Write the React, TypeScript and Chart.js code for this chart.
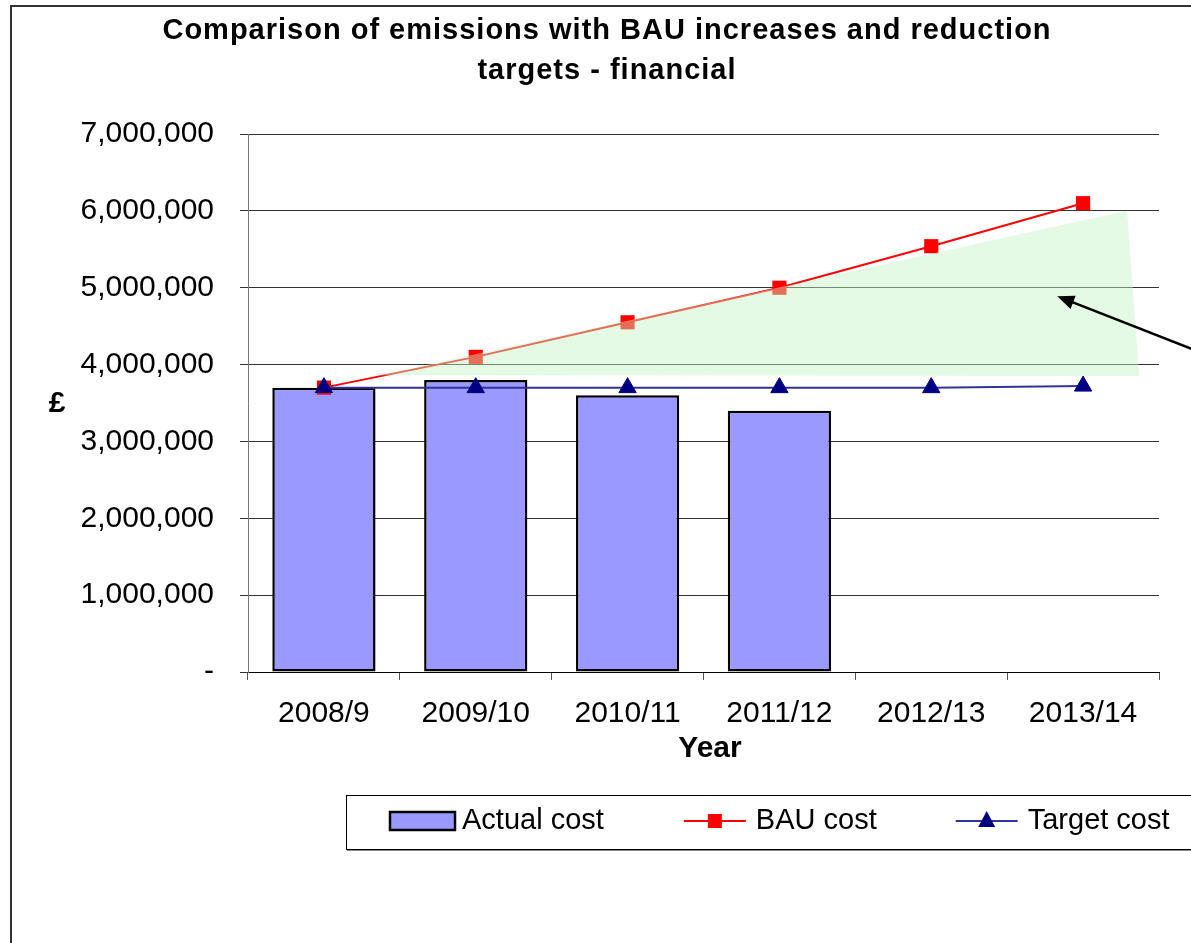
import React, { useEffect, useRef } from "react";
import { Chart, registerables } from "chart.js";

Chart.register(...registerables);

const categories = ["2008/9", "2009/10", "2010/11", "2011/12", "2012/13", "2013/14"];
const actualCost = [3700000, 3800000, 3600000, 3400000, null, null];
const bauCost = [3700000, 4100000, 4550000, 5000000, 5540000, 6100000];
const targetCost = [3700000, 3700000, 3700000, 3700000, 3700000, 3720000];
const yTicks = [0, 1000000, 2000000, 3000000, 4000000, 5000000, 6000000, 7000000];

// annotation shape (category index, value)
const shadeIdx = [0.37, 5.29, 5.37];
const shadeVal = [3860000, 6000000, 3850000];
const arrowIdx = [5.9, 4.83];
const arrowVal = [4060000, 4890000];

const titleLines = ["Comparison of emissions with BAU increases and reduction", "targets - financial"];
const FONT = "'Liberation Sans', Arial, sans-serif";

export default function App() {
  const ref = useRef<HTMLCanvasElement | null>(null);

  useEffect(() => {
    document.body.style.margin = "0";
    const canvas = ref.current!;

    const decor = {
      id: "decor",
      afterDatasetsDraw(chart: any) {
        const ctx = chart.ctx;
        const x = chart.scales.x;
        const y = chart.scales.y;
        // green shaded area
        ctx.save();
        ctx.fillStyle = "rgba(195,245,195,0.45)";
        ctx.beginPath();
        shadeIdx.forEach((v, i) => {
          const px = x.getPixelForValue(v);
          const py = y.getPixelForValue(shadeVal[i]);
          if (i === 0) ctx.moveTo(px, py);
          else ctx.lineTo(px, py);
        });
        ctx.closePath();
        ctx.fill();
        // arrow
        const x0 = x.getPixelForValue(arrowIdx[0]);
        const y0 = y.getPixelForValue(arrowVal[0]);
        const x1 = x.getPixelForValue(arrowIdx[1]);
        const y1 = y.getPixelForValue(arrowVal[1]);
        const ang = Math.atan2(y1 - y0, x1 - x0);
        ctx.strokeStyle = "#000";
        ctx.fillStyle = "#000";
        ctx.lineWidth = 2.5;
        ctx.beginPath();
        ctx.moveTo(x0, y0);
        ctx.lineTo(x1 - Math.cos(ang) * 10, y1 - Math.sin(ang) * 10);
        ctx.stroke();
        const hl = 17, hw = 7;
        ctx.beginPath();
        ctx.moveTo(x1, y1);
        ctx.lineTo(x1 - Math.cos(ang) * hl + Math.sin(ang) * hw, y1 - Math.sin(ang) * hl - Math.cos(ang) * hw);
        ctx.lineTo(x1 - Math.cos(ang) * hl - Math.sin(ang) * hw, y1 - Math.sin(ang) * hl + Math.cos(ang) * hw);
        ctx.closePath();
        ctx.fill();
        ctx.restore();
      },
      afterDraw(chart: any) {
        const ctx = chart.ctx;
        const ca = chart.chartArea;
        ctx.save();
        // outer frame
        ctx.strokeStyle = "#333";
        ctx.lineWidth = 2;
        ctx.strokeRect(11, 6, 1300, 1100);
        // main title
        ctx.fillStyle = "#000";
        ctx.textAlign = "center";
        ctx.textBaseline = "middle";
        ctx.font = `bold 29px ${FONT}`;
        try { (ctx as any).letterSpacing = "1px"; } catch (e) {}
        ctx.fillText(titleLines[0], 607, 31);
        ctx.fillText(titleLines[1], 607, 71);
        try { (ctx as any).letterSpacing = "0px"; } catch (e) {}
        // axis titles
        ctx.font = `bold 30px ${FONT}`;
        ctx.fillText("£", 57, (ca.top + ca.bottom) / 2 + 1);
        ctx.fillText("Year", 710, 749);
        // legend
        const ds = chart.data.datasets;
        ctx.strokeStyle = "#000";
        ctx.lineWidth = 1;
        ctx.strokeRect(346.5, 795.5, 1000, 54);
        ctx.strokeStyle = "#888";
        ctx.beginPath();
        ctx.moveTo(347, 850.5);
        ctx.lineTo(1191, 850.5);
        ctx.stroke();
        ctx.font = `29px ${FONT}`;
        ctx.textAlign = "left";
        const cy = 821;
        let lx = 390;
        // bar item
        const bar = ds[2];
        ctx.fillStyle = bar.backgroundColor;
        ctx.fillRect(lx, cy - 9, 65, 18);
        ctx.strokeStyle = "#000";
        ctx.lineWidth = 2.5;
        ctx.strokeRect(lx, cy - 9, 65, 18);
        ctx.fillStyle = "#000";
        ctx.fillText(bar.label, lx + 72, cy);
        lx += 72 + ctx.measureText(bar.label).width + 80;
        // line items
        [ds[1], ds[0]].forEach((d: any) => {
          ctx.strokeStyle = d.borderColor;
          ctx.lineWidth = 2;
          ctx.beginPath();
          ctx.moveTo(lx, cy);
          ctx.lineTo(lx + 62, cy);
          ctx.stroke();
          ctx.fillStyle = d.pointBackgroundColor;
          ctx.beginPath();
          const mx = lx + 31;
          if (d.pointStyle === "rect") {
            ctx.rect(mx - 7, cy - 7, 14, 14);
          } else {
            ctx.moveTo(mx, cy - 10);
            ctx.lineTo(mx + 8.5, cy + 6);
            ctx.lineTo(mx - 8.5, cy + 6);
            ctx.closePath();
          }
          ctx.fill();
          ctx.fillStyle = "#000";
          ctx.fillText(d.label, lx + 72, cy);
          lx += 72 + ctx.measureText(d.label).width + 79;
        });
        ctx.restore();
      },
    };

    const chart = new Chart(canvas, {
      data: {
        labels: categories,
        datasets: [
          {
            type: "line",
            label: "Target cost",
            data: targetCost,
            borderColor: "#333399",
            borderWidth: 2,
            pointStyle: "triangle",
            pointRadius: 10,
            pointBackgroundColor: "#000080",
            pointBorderColor: "#000080",
            pointBorderWidth: 1,
            order: 0,
          },
          {
            type: "line",
            label: "BAU cost",
            data: bauCost,
            borderColor: "#FF0000",
            borderWidth: 2,
            pointStyle: "rect",
            pointRadius: 10,
            pointBackgroundColor: "#FF0000",
            pointBorderColor: "#FF0000",
            pointBorderWidth: 0,
            order: 1,
          },
          {
            type: "bar",
            label: "Actual cost",
            data: actualCost,
            backgroundColor: "#9999FF",
            borderColor: "#000000",
            borderWidth: 2.5,
            borderSkipped: false,
            barPercentage: 0.68,
            categoryPercentage: 1,
            order: 2,
          },
        ] as any,
      },
      options: {
        animation: false,
        responsive: false,
        layout: { padding: { left: 0, top: 134, right: 32, bottom: 211 } },
        plugins: {
          legend: { display: false },
          title: { display: false },
          tooltip: { enabled: false },
        },
        scales: {
          x: {
            offset: true,
            grid: { offset: true, drawOnChartArea: false, drawTicks: true, tickLength: 8, color: "#555", lineWidth: 1 },
            border: { color: "#000", width: 1 },
            ticks: { color: "#000", font: { family: FONT, size: 30 }, padding: 16, maxRotation: 0 },
            afterFit: (s: any) => { s.height = 60; },
          },
          y: {
            min: 0,
            max: 7000000,
            afterBuildTicks: (s: any) => { s.ticks = yTicks.map((v) => ({ value: v })); },
            grid: { color: "#333", lineWidth: 1, tickLength: 8 },
            border: { color: "#777", width: 1 },
            ticks: {
              color: "#000",
              font: { family: FONT, size: 30 },
              padding: 26,
              callback: (v: any) => (Number(v) === 0 ? "-" : Number(v).toLocaleString("en-US")),
            },
            afterFit: (s: any) => { s.width = 248; },
          },
        },
      } as any,
      plugins: [decor],
    });
    return () => chart.destroy();
  }, []);

  return (
    <div style={{ width: 1191, height: 943 }}>
      <canvas ref={ref} width={1191} height={943} style={{ display: "block", width: 1191, height: 943 }} />
    </div>
  );
}
